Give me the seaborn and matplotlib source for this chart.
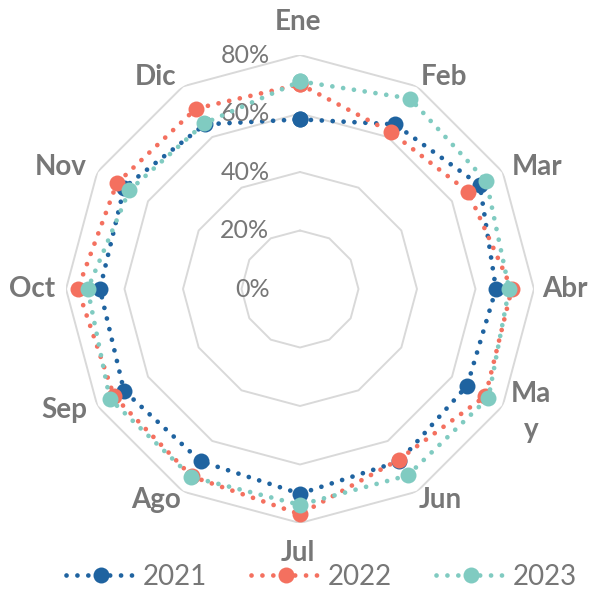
import numpy as np
import pandas as pd
import matplotlib.pyplot as plt
import seaborn as sns
from matplotlib.lines import Line2D

sns.set_style('white')
plt.rcParams['font.family'] = ['Lato', 'DejaVu Sans']

# datos
meses = ['Ene', 'Feb', 'Mar', 'Abr', 'May', 'Jun', 'Jul', 'Ago', 'Sep', 'Oct', 'Nov', 'Dic']
etiquetas = ['Ene', 'Feb', 'Mar', 'Abr', 'Ma\ny', 'Jun', 'Jul', 'Ago', 'Sep', 'Oct', 'Nov', 'Dic']
v2021 = [58, 65, 71, 67, 66, 68, 70, 68, 69.5, 68.4, 69.4, 65]
v2022 = [70, 62, 66.4, 72.4, 73.2, 67.4, 77, 74, 73.4, 76, 72.3, 71.2]
v2023 = [71, 75.2, 73.6, 71.5, 74.4, 73.6, 73.8, 74.2, 75.1, 72.6, 67.4, 65.4]
anios = ['2021', '2022', '2023']
colores = ['#1f63a0', '#f4705f', '#80cbc1']
niveles = [20, 40, 60, 80]

# posicion de las etiquetas de mes (pixeles desde arriba a la izquierda)
pos_etiquetas = [(298, 22), (444, 77), (537, 167), (565, 289), (531, 412), (440, 500),
                 (298, 553), (156, 500), (64, 410), (32, 289), (61, 167), (156, 77)]

gris = '#777777'
W, H = 591, 589
angulos = np.linspace(0, 2 * np.pi, len(meses), endpoint=False)
ang_cerrado = np.append(angulos, 2 * np.pi)

filas = []
for anio, vals in zip(anios, [v2021, v2022, v2023]):
    vals_c = list(vals) + [vals[0]]
    for a, v in zip(ang_cerrado, vals_c):
        filas.append({'anio': anio, 'theta': a, 'valor': v})
df = pd.DataFrame(filas)

fig = plt.figure(figsize=(W / 100, H / 100), dpi=100)
ax = fig.add_axes([66 / W, 66 / H, 468 / W, 468 / H], projection='polar')
ax.set_theta_zero_location('N')
ax.set_theta_direction(-1)

# rejilla poligonal
for n in niveles:
    ax.plot(ang_cerrado, [n] * len(ang_cerrado), color='#d9d9d9', lw=1.4, zorder=1)

estilo = (0, (0.01, 2.3))
for k, anio in enumerate(anios):
    sub = df[df['anio'] == anio]
    sns.lineplot(data=sub, x='theta', y='valor', sort=False, estimator=None, ax=ax,
                 color=colores[k], lw=3.4, linestyle=estilo, dash_capstyle='round',
                 marker='o', markersize=11.5, markeredgewidth=0, legend=False,
                 zorder=3 + k, clip_on=False)

ax.set_ylim(0, 80)
ax.grid(False)
ax.spines['polar'].set_visible(False)
ax.set_xticks([])
ax.set_yticks([])
ax.set_xlabel('')
ax.set_ylabel('')

# etiquetas de categorias
for (x, y), txt in zip(pos_etiquetas, etiquetas):
    fig.text(x / W, 1 - y / H, txt, ha='center', va='center', fontsize=20,
             fontweight='bold', color=gris, linespacing=1.45)

# etiquetas del eje radial
for n in [0] + niveles:
    ax.annotate(f'{n}%', xy=(0, n), xytext=(-22, 0), textcoords='offset points',
                ha='right', va='center', fontsize=18, color=gris)

handles = [Line2D([0], [0], color=c, lw=3.4, linestyle=estilo, dash_capstyle='round',
                  marker='o', markersize=11.5, markeredgewidth=0) for c in colores]
fig.legend(handles, anios, loc='center left', ncol=3, frameon=False,
           bbox_to_anchor=(66 / W, 1 - 577 / H), borderaxespad=0, borderpad=0,
           fontsize=20, handlelength=2.5, columnspacing=1.6, handletextpad=0.25,
           labelcolor=gris)

fig.savefig('out.png', dpi=100)
